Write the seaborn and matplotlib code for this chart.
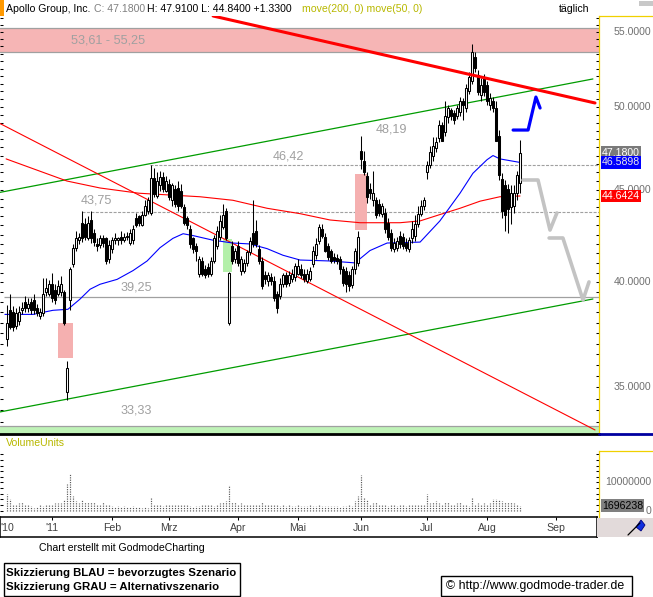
import numpy as np
import matplotlib
matplotlib.use("Agg")
import matplotlib.pyplot as plt
import matplotlib.transforms as mtrans
from matplotlib.patches import Rectangle, Polygon
from matplotlib.lines import Line2D
from matplotlib.ticker import FixedLocator, NullFormatter
import seaborn as sns

# ---------------------------------------------------------------- data
opens = [37.20, 38.60, 38.50, 37.85, 38.10, 38.60, 39.00, 38.70, 39.00, 39.10,
         38.70, 38.30, 38.45, 39.50, 39.40, 39.90, 39.60, 39.40, 39.50, 39.50,
         34.80, 39.10, 40.95, 41.80, 42.20, 43.15, 43.10, 42.30, 43.30, 42.60,
         42.00, 41.95, 42.30, 42.30, 41.20, 41.75, 42.20, 42.20, 42.40, 42.20,
         42.35, 42.05, 42.20, 43.40, 43.50, 43.05, 43.60, 43.80, 43.70, 45.70,
         44.65, 45.25, 45.75, 44.95, 45.35, 44.40, 45.05, 45.10, 44.95, 44.00,
         43.40, 42.80, 42.30, 41.90, 40.45, 41.10, 40.70, 40.80, 40.45, 41.10,
         41.90, 42.35, 42.90, 43.80, 38.00, 41.90, 41.20, 41.90, 40.60, 40.60,
         41.00, 41.55, 42.60, 42.70, 41.75, 41.10, 40.35, 40.05, 40.25, 40.05,
         39.40, 39.30, 39.90, 40.35, 39.95, 40.15, 40.25, 40.45, 40.70, 40.45,
         40.05, 40.15, 40.95, 41.40, 42.15, 42.80, 42.35, 41.90, 41.65, 41.30,
         41.25, 41.20, 40.70, 40.60, 40.35, 39.85, 40.70, 41.00, 47.30, 46.70,
         45.80, 45.05, 44.40, 44.40, 44.20, 43.65, 43.70, 43.15, 42.60, 41.75,
         41.80, 42.45, 42.35, 42.05, 41.75, 42.30, 42.45, 43.10, 43.65, 44.05,
         46.00, 46.45, 47.00, 47.45, 48.05, 48.85, 48.40, 49.35, 49.80, 49.60,
         49.45, 49.65, 50.40, 49.90, 51.05, 51.70, 53.30, 52.05, 50.75, 51.85,
         51.40, 50.10, 50.40, 49.90, 48.20, 45.60, 45.25, 45.05, 44.00, 44.10,
         44.80, 45.40]
highs = [38.85, 39.40, 38.80, 38.70, 38.80, 39.00, 39.30, 39.20, 39.20, 39.40,
         38.90, 38.70, 40.20, 40.20, 40.10, 40.50, 39.90, 40.10, 40.30, 39.60,
         36.20, 40.80, 42.00, 42.70, 42.60, 43.80, 43.40, 43.50, 43.80, 42.80,
         42.30, 42.50, 42.50, 42.40, 42.20, 42.40, 42.60, 42.40, 42.70, 42.60,
         42.65, 42.80, 43.00, 43.70, 43.60, 43.80, 44.40, 44.60, 46.45, 46.25,
         46.00, 46.10, 46.00, 45.80, 45.60, 45.40, 45.30, 45.50, 45.35, 44.20,
         43.50, 43.00, 42.40, 42.05, 41.35, 41.30, 40.90, 41.00, 41.30, 42.50,
         42.95, 43.60, 44.20, 43.95, 40.55, 42.15, 41.80, 42.15, 41.35, 41.20,
         41.70, 42.35, 44.40, 43.30, 41.95, 41.30, 40.60, 40.55, 40.50, 40.30,
         39.55, 40.20, 40.50, 40.55, 40.60, 40.70, 41.00, 41.20, 40.95, 40.70,
         40.70, 40.80, 41.90, 42.30, 43.10, 43.10, 42.60, 42.05, 41.75, 41.50,
         41.45, 41.35, 40.85, 40.80, 40.60, 40.85, 41.80, 42.70, 48.20, 47.30,
         46.00, 45.40, 46.10, 44.60, 44.50, 44.25, 43.95, 43.40, 42.80, 42.30,
         42.35, 42.70, 42.60, 42.30, 42.40, 43.25, 43.60, 44.10, 44.40, 44.60,
         46.70, 47.60, 48.10, 48.15, 49.15, 49.05, 50.40, 50.15, 49.95, 49.80,
         50.15, 50.65, 50.60, 51.50, 52.30, 54.20, 53.60, 52.40, 51.85, 52.15,
         51.70, 50.90, 50.65, 50.40, 48.55, 45.95, 45.55, 45.35, 45.25, 45.25,
         46.10, 47.91]
lows = [36.90, 37.70, 37.60, 37.70, 37.90, 38.40, 38.50, 38.50, 38.40, 38.40,
        38.30, 38.20, 38.30, 39.30, 39.30, 39.00, 38.90, 39.30, 39.30, 37.90,
        34.45, 38.60, 40.80, 41.60, 42.00, 42.10, 42.20, 42.20, 42.05, 41.90,
        41.60, 41.80, 41.85, 40.95, 41.00, 41.50, 42.00, 41.95, 42.00, 42.10,
        42.20, 41.95, 42.00, 42.90, 42.95, 42.95, 43.50, 43.65, 43.60, 44.60,
        44.55, 44.95, 44.85, 44.85, 44.40, 44.10, 44.00, 43.80, 43.95, 43.00,
        42.80, 41.80, 41.50, 41.10, 40.25, 40.30, 40.20, 40.25, 40.30, 41.00,
        41.75, 42.20, 42.80, 42.20, 37.90, 40.95, 41.00, 40.85, 40.35, 40.50,
        40.85, 41.40, 41.85, 41.85, 40.95, 39.65, 39.90, 39.80, 39.85, 39.05,
        38.45, 39.15, 39.75, 39.75, 39.80, 40.00, 40.05, 40.35, 40.20, 40.00,
        39.95, 40.05, 40.80, 41.20, 42.00, 42.30, 41.55, 41.15, 41.00, 41.00,
        40.95, 40.45, 39.80, 39.50, 39.55, 39.70, 40.45, 40.85, 46.20, 45.85,
        44.25, 44.50, 44.10, 43.40, 43.50, 43.45, 42.60, 42.20, 41.60, 41.55,
        41.65, 41.80, 41.75, 41.65, 41.55, 42.05, 42.15, 42.90, 43.50, 43.85,
        45.60, 46.25, 46.70, 47.20, 47.80, 47.85, 48.20, 49.00, 49.15, 48.95,
        49.25, 49.45, 49.15, 49.65, 50.85, 51.45, 52.30, 50.75, 50.40, 50.70,
        50.15, 49.80, 49.65, 47.85, 45.55, 43.40, 42.70, 42.60, 43.10, 43.70,
        44.40, 44.84]
closes = [38.00, 37.80, 37.80, 38.45, 38.50, 38.70, 38.70, 38.90, 38.60, 38.60,
          38.45, 38.50, 39.40, 39.70, 39.90, 39.20, 39.10, 39.80, 39.90, 38.00,
          35.85, 40.70, 41.80, 42.30, 42.40, 42.30, 42.40, 43.15, 42.30, 42.10,
          41.90, 42.30, 42.05, 41.10, 41.95, 42.20, 42.30, 42.30, 42.20, 42.40,
          42.45, 42.60, 42.80, 43.05, 43.15, 43.55, 44.05, 44.40, 45.70, 44.75,
          45.50, 45.75, 45.05, 45.50, 44.60, 45.25, 44.20, 44.10, 44.10, 43.15,
          43.05, 42.00, 41.75, 41.65, 41.20, 40.45, 40.35, 40.40, 41.10, 42.30,
          42.70, 43.25, 43.55, 42.30, 40.50, 41.10, 41.65, 41.00, 41.20, 41.00,
          41.55, 42.15, 42.00, 42.00, 41.10, 39.80, 40.15, 40.35, 40.05, 39.20,
          38.70, 39.90, 40.35, 39.90, 40.35, 40.45, 40.85, 40.85, 40.35, 40.15,
          40.45, 40.60, 41.65, 42.00, 42.90, 42.45, 41.65, 41.30, 41.10, 41.15,
          41.10, 40.70, 39.95, 39.90, 39.80, 40.70, 41.65, 42.35, 46.80, 46.00,
          44.60, 44.80, 44.80, 43.55, 43.70, 44.10, 42.80, 42.35, 41.80, 42.05,
          42.15, 42.00, 41.90, 41.80, 42.20, 42.80, 43.10, 43.65, 44.10, 44.40,
          46.45, 47.20, 47.55, 47.80, 48.85, 47.90, 49.45, 49.90, 49.45, 49.15,
          49.90, 50.40, 50.10, 51.20, 51.95, 53.60, 52.55, 50.95, 51.40, 50.95,
          50.40, 50.60, 49.90, 47.90, 45.85, 43.80, 43.55, 43.90, 44.80, 44.80,
          45.85, 47.18]
volume_mio = [6.0, 4.2, 2.5, 2.5, 2.7, 3.2, 2.0, 1.8, 1.5, 0.9,
              1.2, 2.0, 1.5, 2.3, 1.8, 2.3, 2.6, 2.6, 2.6, 3.9,
              9.5, 13.2, 5.3, 3.3, 2.7, 3.9, 2.9, 3.2, 3.2, 3.2,
              2.4, 2.1, 3.2, 2.4, 2.0, 1.5, 1.2, 1.5, 1.4, 1.5,
              1.4, 1.2, 1.5, 1.3, 1.2, 0.9, 1.1, 1.0, 4.5, 2.3,
              2.1, 1.8, 1.6, 2.1, 1.9, 1.8, 1.9, 1.8, 2.1, 2.0,
              1.8, 1.5, 1.3, 1.5, 1.5, 1.8, 1.8, 2.0, 2.0, 1.5,
              2.0, 2.7, 2.9, 3.5, 9.2, 3.2, 2.9, 2.4, 2.7, 2.4,
              2.1, 2.1, 2.0, 2.4, 2.0, 2.9, 2.0, 1.8, 1.8, 2.0,
              2.3, 1.6, 1.8, 1.6, 1.8, 1.6, 1.5, 1.8, 1.6, 1.5,
              1.6, 1.8, 1.5, 1.5, 1.8, 1.6, 1.5, 1.6, 1.5, 1.6,
              1.5, 1.4, 1.6, 1.5, 1.8, 1.5, 3.5, 5.1, 12.7, 4.5,
              3.6, 2.0, 2.7, 3.2, 2.0, 1.8, 2.1, 1.5, 2.4, 1.8,
              1.6, 1.8, 1.8, 1.6, 1.8, 1.8, 2.0, 2.1, 2.3, 2.0,
              5.9, 2.7, 3.1, 3.5, 2.7, 2.1, 3.2, 3.2, 2.1, 2.1,
              2.7, 3.2, 2.0, 2.4, 1.6, 4.9, 2.4, 2.6, 2.4, 2.6,
              2.1, 2.6, 4.2, 4.2, 3.8, 3.5, 3.0, 3.2, 3.0, 2.7,
              2.4, 1.696238]

# moving averages (day index, value)
ma200_day = [-0.3, 20, 31, 44, 64.3, 75.3, 86.7, 97.7, 107.7, 117.7, 131, 137.7,
             144.3, 151, 157.7, 164.3, 171]
ma200_val = [46.8, 45.5, 45.1, 44.8, 44.6, 44.4, 43.95, 43.65, 43.3, 43.15, 43.15,
             43.25, 43.6, 43.95, 44.35, 44.6, 44.6424]
ma50_day = [-0.7, 8.7, 15.3, 20.3, 24.3, 27.7, 31, 36.7, 42, 46.7, 51, 55.3, 58.7,
            62, 68.7, 75.3, 81, 86.7, 92, 97.7, 107.7, 116, 121, 126.7, 137.7,
            144.3, 151, 155.3, 160, 162, 164.3, 171]
ma50_val = [38.4, 38.4, 38.6, 38.65, 39.15, 39.65, 39.9, 40.15, 40.6, 41.1, 41.8,
            42.3, 42.55, 42.45, 42.2, 42.05, 42.0, 41.75, 41.4, 41.15, 41.1, 41.0,
            41.65, 42.05, 42.1, 43.25, 44.8, 45.95, 46.75, 47.0, 46.8, 46.5898]

# trend lines (day index, price)
resist_day, resist_val = [68.7, 196.0], [56.13, 50.25]
chan_up_day, chan_up_val = [-2.3, 195.3], [44.85, 51.81]
chan_lo_day, chan_lo_val = [-2.3, 195.3], [33.92, 39.16]
down_day, down_val = [-2.3, 196.0], [48.95, 33.15]

# scenario sketches
blue_day, blue_val = [168.7, 173.7, 176.3, 177.7], [48.55, 48.55, 50.63, 49.93]
grey1_day, grey1_val = [172.0, 177.0, 181.0, 183.3], [45.56, 45.56, 42.75, 43.69]
grey2_day, grey2_val = [180.7, 185.3, 192.0, 194.0], [42.32, 42.32, 39.11, 40.02]

# zones / levels
zone_top = (53.61, 55.25)
zone_bottom = 33.33
level_dashed = [46.42, 43.75]
level_dashed_start = [47.7, 25.0]
level_solid = 39.25
gap_boxes = [(17, 22, 36.33, 37.98, '#f5b0b0'),
             (116, 120, 42.75, 45.91, '#f5b0b0'),
             (72, 75, 40.53, 42.27, '#b4f0aa')]
level_texts = [("53,61 - 55,25", 21.3, 54.44), ("46,42", 88.7, 46.97),
               ("43,75", 24.7, 44.38), ("39,25", 37.7, 39.72),
               ("33,33", 37.7, 33.99), ("48,19", 123.0, 48.61)]

month_day = [15, 35, 54, 77, 97, 118, 140, 160, 183]
month_labels = ["'11", "Feb", "Mrz", "Apr", "Mai", "Jun", "Jul", "Aug", "Sep"]
price_ticks = [35, 40, 45, 50, 55]

# ---------------------------------------------------------------- figure
sns.set_theme(style="white")
plt.rcParams['font.family'] = ['Liberation Sans', 'DejaVu Sans']

W, H = 653, 597
fig = plt.figure(figsize=(W / 100, H / 100), dpi=100)
fig.patch.set_facecolor('white')


def box(x0, y0, x1, y1):
    return [x0 / W, 1 - y1 / H, (x1 - x0) / W, (y1 - y0) / H]


ax = fig.add_axes(box(0, 16, 599, 434))
axv = fig.add_axes(box(0, 436, 599, 517))
axd = fig.add_axes(box(0, 517, 597, 537))

XL = (-7 / 3, 592 / 3)
YELLOW = '#f0d000'
GREYTXT = '#707070'
FS = 7.6

# ---------------- price panel
ax.set_yscale('log')
ax.set_xlim(*XL)
ax.set_ylim(32.98, 56.13)
ax.set_facecolor('white')

ax.axhspan(zone_top[0], zone_top[1], color='#f6b5b5', lw=0, zorder=0.5)
for v in zone_top:
    ax.axhline(v, color='#a0a0a0', lw=0.9, zorder=0.6)
ax.axhspan(32.98, zone_bottom, color='#bff2b7', lw=0, zorder=0.5)
ax.axhline(zone_bottom, color='#a0a0a0', lw=0.9, zorder=0.6)

for lv, st in zip(level_dashed, level_dashed_start):
    ax.hlines(lv, st, XL[1], colors='#a0a0a0', linestyles=(0, (2.7, 1.3)), lw=0.8, zorder=1)
ax.hlines(level_solid, -1, XL[1], colors='#a0a0a0', lw=0.9, zorder=1)

for d0, d1, p0, p1, col in gap_boxes:
    ax.add_patch(Rectangle((d0, p0), d1 - d0, p1 - p0, facecolor=col, edgecolor='none', zorder=1.2))

for txt, d, p in level_texts:
    ax.text(d, p, txt, fontsize=9.1, color='#a0a0a0', ha='left', va='center', zorder=1.5)

sns.lineplot(x=chan_up_day, y=chan_up_val, ax=ax, color='#009c00', linewidth=0.9, zorder=3)
sns.lineplot(x=chan_lo_day, y=chan_lo_val, ax=ax, color='#009c00', linewidth=0.9, zorder=3)
sns.lineplot(x=down_day, y=down_val, ax=ax, color='#ff0000', linewidth=0.8, zorder=3)
sns.lineplot(x=ma200_day, y=ma200_val, ax=ax, color='#ff0000', linewidth=0.8, zorder=3)
sns.lineplot(x=ma50_day, y=ma50_val, ax=ax, color='#0000ff', linewidth=0.8, zorder=3)

idx = np.arange(len(closes))
o, hi, lo, c = map(np.array, (opens, highs, lows, closes))
body_lo = np.minimum(o, c)
body_h = np.maximum(np.abs(c - o), 0.03)
fill = np.where(c >= o, 'white', 'black')
ax.vlines(idx, lo, hi, colors='black', lw=0.75, zorder=5)
ax.bar(idx, body_h, bottom=body_lo, width=0.67, color=fill, edgecolor='black',
       linewidth=0.75, zorder=6)

sns.lineplot(x=resist_day, y=resist_val, ax=ax, color='#ff0000', linewidth=2.2, zorder=7)
sns.lineplot(x=blue_day, y=blue_val, ax=ax, color='#0000ff', linewidth=2.3, sort=False,
             estimator=None, zorder=8)
sns.lineplot(x=grey1_day, y=grey1_val, ax=ax, color='#c3c3c3', linewidth=2.6, sort=False,
             estimator=None, zorder=8)
sns.lineplot(x=grey2_day, y=grey2_val, ax=ax, color='#c3c3c3', linewidth=2.6, sort=False,
             estimator=None, zorder=8)

ax.set_xlabel('')
ax.set_ylabel('')
ax.yaxis.set_major_locator(FixedLocator(price_ticks))
ax.yaxis.set_minor_locator(FixedLocator(list(np.arange(33.5, 56.01, 0.5))))
ax.yaxis.set_major_formatter(NullFormatter())
ax.yaxis.set_minor_formatter(NullFormatter())
ax.tick_params(axis='y', which='both', left=True, right=True, direction='in',
               length=2.3, width=0.75, colors='black', labelleft=False, labelright=False)
ax.tick_params(axis='x', which='both', bottom=False, top=False, labelbottom=False)
ax.spines['top'].set_visible(False)
ax.spines['left'].set_visible(False)
ax.spines['right'].set_color(YELLOW)
ax.spines['right'].set_linewidth(0.9)
ax.spines['bottom'].set_color('black')
ax.spines['bottom'].set_linewidth(2.0)

tr = mtrans.blended_transform_factory(ax.transAxes, ax.transData)
for v in price_ticks:
    ax.text(651 / 599, v, f"{v:.4f}", transform=tr, ha='right', va='center',
            fontsize=FS, color=GREYTXT, zorder=2)
ax.text(602 / 599, closes[-1], f"{closes[-1]:.4f}", transform=tr, ha='left', va='center',
        fontsize=FS, color='white', zorder=10,
        bbox=dict(boxstyle='square,pad=0.12', fc='#7a7a7a', ec='none'))
ax.text(602 / 599, ma50_val[-1], f"{ma50_val[-1]:.4f}", transform=tr, ha='left', va='center',
        fontsize=FS, color='#e8e8e8', zorder=10,
        bbox=dict(boxstyle='square,pad=0.12', fc='#0000ff', ec='none'))
ax.text(602 / 599, ma200_val[-1], f"{ma200_val[-1]:.4f}", transform=tr, ha='left', va='center',
        fontsize=FS, color='white', zorder=10,
        bbox=dict(boxstyle='square,pad=0.12', fc='#ff0000', ec='none'))

# ---------------- volume panel
axv.set_xlim(*XL)
axv.set_ylim(-2.32e6, 26.6e6)
axv.set_facecolor('white')
axv.vlines(idx, 0, np.array(volume_mio) * 1e6, colors='#5a5a5a', lw=0.85,
           linestyles=(0, (1, 1)))
axv.yaxis.set_major_locator(FixedLocator(list(np.arange(0, 20.1e6, 2e6))))
axv.yaxis.set_major_formatter(NullFormatter())
axv.tick_params(axis='y', which='both', left=True, right=True, direction='in',
                length=2.3, width=0.75, colors='black', labelleft=False, labelright=False)
axv.tick_params(axis='x', which='both', bottom=False, top=False, labelbottom=False)
for s in ('top', 'left', 'bottom'):
    axv.spines[s].set_visible(False)
axv.spines['right'].set_color(YELLOW)
axv.spines['right'].set_linewidth(0.9)
axv.spines['right'].set_bounds(-2.32e6, 21.2e6)
trv = mtrans.blended_transform_factory(axv.transAxes, axv.transData)
axv.text(651 / 599, 1e7, "10000000", transform=trv, ha='right', va='center',
         fontsize=FS, color=GREYTXT)
axv.text(651 / 599, 0, "0", transform=trv, ha='right', va='center',
         fontsize=FS, color=GREYTXT)
axv.text(602 / 599, volume_mio[-1] * 1e6, f"{int(round(volume_mio[-1] * 1e6))}",
         transform=trv, ha='left', va='center', fontsize=FS, color='black', zorder=10,
         bbox=dict(boxstyle='square,pad=0.12', fc='#808080', ec='none'))

# ---------------- date panel
axd.set_xlim(-7 / 3, 590 / 3)
axd.set_ylim(0, 1)
axd.set_xticks(month_day)
axd.set_yticks([])
axd.tick_params(axis='x', top=True, bottom=False, direction='in', length=2.5, width=0.75,
                colors='black', labelbottom=False, labeltop=False)
for s in axd.spines.values():
    s.set_color('black')
    s.set_linewidth(1.1)
trd = mtrans.blended_transform_factory(axd.transData, axd.transAxes)
for d, lab in zip(month_day, month_labels):
    axd.text(d, 0.45, lab, transform=trd, ha='center', va='center', fontsize=FS, color='#404040')
axd.text(-2.2, 0.45, "'10", transform=trd, ha='left', va='center', fontsize=FS, color='#404040')


# ---------------- figure decorations
def fline(x0, y0, x1, y1, **kw):
    fig.add_artist(Line2D([x0 / W, x1 / W], [1 - y0 / H, 1 - y1 / H],
                          transform=fig.transFigure, **kw))


def frect(x0, y0, x1, y1, **kw):
    fig.add_artist(Rectangle((x0 / W, 1 - y1 / H), (x1 - x0) / W, (y1 - y0) / H,
                             transform=fig.transFigure, **kw))


fline(599, 16, 653, 16, color=YELLOW, lw=0.9)
fline(599, 433.5, 653, 433.5, color='#0000a0', lw=2.0)
fline(599, 451, 653, 451, color=YELLOW, lw=0.9)
frect(0, 0, 4, 16, facecolor='#ff9900', edgecolor='none')
frect(639, 1, 653, 6, facecolor='#c8c8c8', edgecolor='none')
frect(597, 518, 653, 537, facecolor='#e2dada', edgecolor='none')
fline(628, 535, 640, 523, color='black', lw=0.9)
fig.add_artist(Polygon([[636 / W, 1 - 527 / H], [641 / W, 1 - 520 / H],
                        [645 / W, 1 - 525 / H], [641 / W, 1 - 531 / H]],
                       closed=True, transform=fig.transFigure, facecolor='#1030e0',
                       edgecolor='#000080', lw=0.6))

ty = 1 - 8.5 / H
fig.text(6 / W, ty, "Apollo Group, Inc.", fontsize=FS, color='black', va='center')
fig.text(94 / W, ty, "C: 47.1800", fontsize=FS, color='#808080', va='center')
fig.text(147 / W, ty, "H: 47.9100 L: 44.8400 +1.3300", fontsize=FS, color='black', va='center')
fig.text(302 / W, ty, "move(200, 0) move(50, 0)", fontsize=FS, color='#b8b800', va='center')
fig.text(559 / W, ty, "täglich", fontsize=FS, color='black', va='center')
fig.text(6 / W, 1 - 443 / H, "VolumeUnits", fontsize=FS, color='#b8b800', va='center')

fig.text(39 / W, 1 - 548 / H, "Chart erstellt mit GodmodeCharting", fontsize=FS,
         color='black', va='center')
frect(4, 563, 240, 596, facecolor='white', edgecolor='black', lw=1.0)
fig.text(6 / W, 1 - 573.5 / H, "Skizzierung BLAU = bevorzugtes Szenario", fontsize=8.2,
         fontweight='bold', color='black', va='center')
fig.text(6 / W, 1 - 587 / H, "Skizzierung GRAU = Alternativszenario", fontsize=8.2,
         fontweight='bold', color='black', va='center')
frect(441, 576, 632, 596, facecolor='white', edgecolor='black', lw=1.0)
fig.text(446 / W, 1 - 586 / H, "© http://www.godmode-trader.de", fontsize=8.9,
         color='black', va='center')

fig.savefig("out.png", dpi=100, facecolor='white')
